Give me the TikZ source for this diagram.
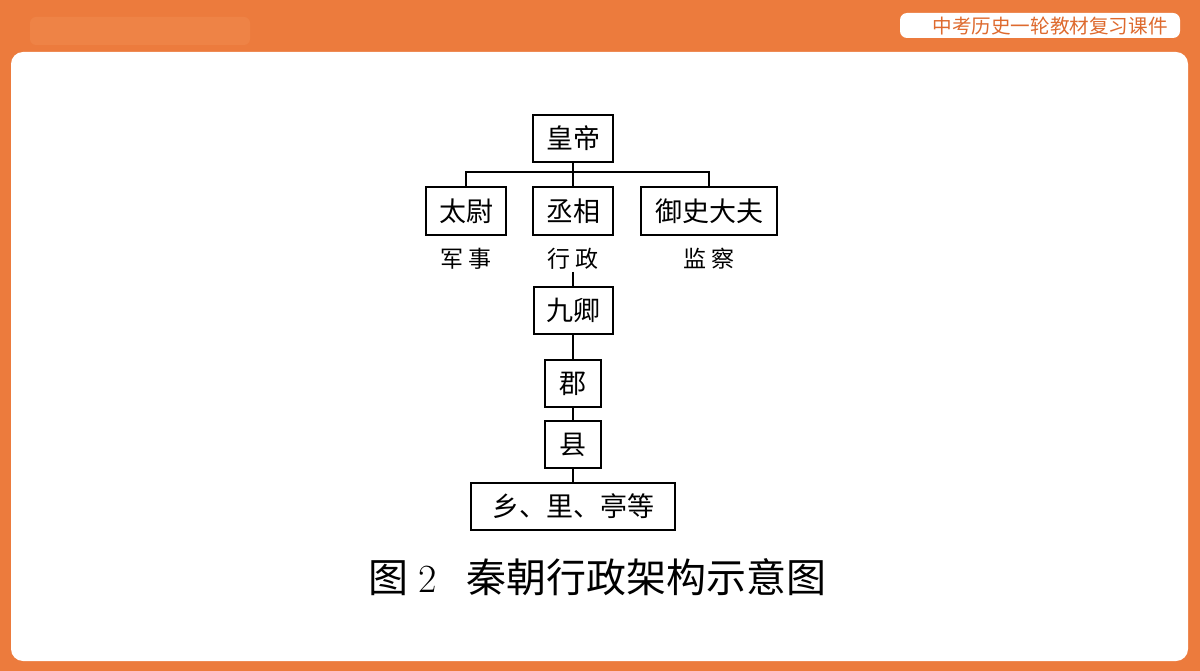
\documentclass[tikz,border=0pt]{standalone}
\usepackage{fontspec}
\newfontfamily\cjk{Noto Sans CJK SC}
\definecolor{bgorange}{RGB}{236,123,61}
\definecolor{blurorange}{RGB}{238,131,70}
\definecolor{titleorange}{RGB}{222,106,46}

\begin{document}
\begin{tikzpicture}[x=1pt,y=-1pt,
	post/.style={draw, line width=2pt, inner sep=0pt, minimum height=47pt, font=\cjk\fontsize{27}{27}\selectfont},
	duty/.style={inner sep=2pt, font=\cjk\fontsize{23}{23}\selectfont},
	link/.style={line width=1.6pt}]
	% page frame
	\fill[bgorange] (0,0) rectangle (1200,671);
	\fill[blurorange, rounded corners=6pt] (30,17) rectangle (250,45);
	\fill[white, rounded corners=12pt] (11,52) rectangle (1188,661);
	\fill[white, rounded corners=7pt] (900,13) rectangle (1180,38);
	\node[titleorange, font=\cjk\fontsize{19.6}{19.6}\selectfont] (head) at (1050,26) {中考历史一轮教材复习课件};

	% central posts
	\node[post, minimum width=80pt] (hd) at (573,138.5) {皇帝};
	\node[post, minimum width=80pt, minimum height=48pt] (tw) at (466,211) {太尉};
	\node[post, minimum width=80pt, minimum height=48pt] (cx) at (573,211) {丞相};
	\node[post, minimum width=136pt, minimum height=48pt] (ys) at (709,211) {御史大夫};

	\node[duty] (js) at (466,259) {军\hspace{5pt}事};
	\node[duty] (xz) at (573,259) {行\hspace{5pt}政};
	\node[duty] (jc) at (709,259) {监\hspace{5pt}察};

	% local levels
	\node[post, minimum width=79pt] (jq) at (573,310.5) {九卿};
	\node[post, minimum width=56pt] (jun) at (573,383.5) {郡};
	\node[post, minimum width=56pt] (xian) at (573,444.5) {县};
	\node[post, minimum width=204pt] (xl) at (573,506.5) {乡、里、亭等};

	\coordinate (bar) at (573,172);
	\draw[link, line width=2.4pt] (hd.south) -- (bar);
	\draw[link, line width=2.4pt] (tw.north) |- (bar) -| (ys.north);
	\draw[link, line width=2.4pt] (bar) -- (cx.north);
	\draw[link] (xz.south) -- (jq.north);
	\draw[link] (jq.south) -- (jun.north);
	\draw[link] (jun.south) -- (xian.north);
	\draw[link] (xian.south) -- (xl.north);

	% caption
	\node[anchor=west, inner sep=0pt, font=\cjk\fontsize{40}{40}\selectfont] (cap) at (368,577) {图\hspace{10pt}{\rmfamily 2}\hspace{30pt}秦朝行政架构示意图};
\end{tikzpicture}
\end{document}
